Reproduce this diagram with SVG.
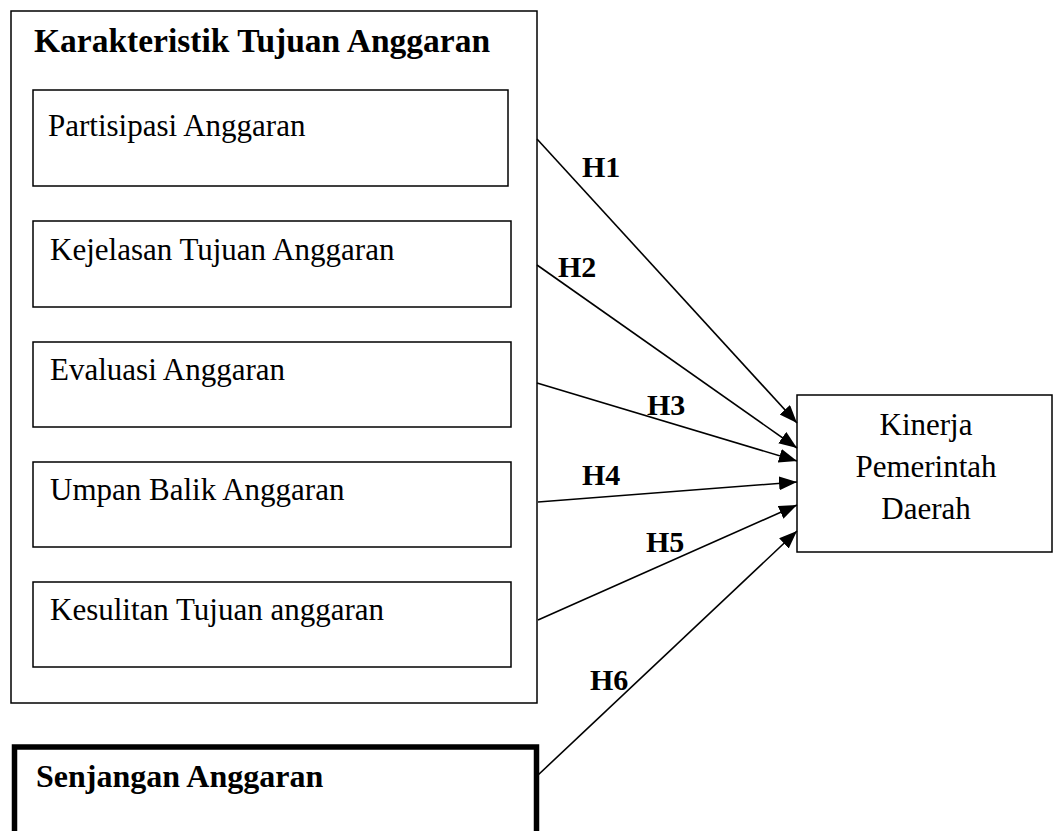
<svg xmlns="http://www.w3.org/2000/svg" width="1056" height="831" viewBox="0 0 1056 831">
<style>
.box{fill:#fff;stroke:#000;stroke-width:1.5}
.thick{fill:#fff;stroke:#000;stroke-width:5.5}
.t{font-family:"Liberation Serif","Times New Roman",serif;font-size:31px;fill:#000}
.b{font-family:"Liberation Serif","Times New Roman",serif;font-size:32px;font-weight:bold;fill:#000}
.h{font-family:"Liberation Serif","Times New Roman",serif;font-size:30px;font-weight:bold;fill:#000}
.c{stroke:#000;stroke-width:1.6;fill:none;marker-end:url(#arr)}
</style>
<defs>
<marker id="arr" markerUnits="userSpaceOnUse" markerWidth="20" markerHeight="16" refX="18" refY="7" orient="auto">
<path d="M0,0 L18,7 L0,14 Z" fill="#000"/>
</marker>
</defs>
<rect width="1056" height="831" fill="#fff"/>
<g id="karakteristik">
<rect class="box" x="11" y="11" width="526" height="692"/>
<text class="b" x="34" y="52" style="font-size:33.5px">Karakteristik Tujuan Anggaran</text>
</g>
<g id="partisipasi">
<rect class="box" x="33" y="90" width="475" height="96"/>
<text class="t" x="48" y="136">Partisipasi Anggaran</text>
</g>
<g id="kejelasan">
<rect class="box" x="33" y="221" width="478" height="86"/>
<text class="t" x="50" y="260">Kejelasan Tujuan Anggaran</text>
</g>
<g id="evaluasi">
<rect class="box" x="33" y="342" width="478" height="85"/>
<text class="t" x="50" y="380">Evaluasi Anggaran</text>
</g>
<g id="umpanbalik">
<rect class="box" x="33" y="462" width="478" height="85"/>
<text class="t" x="50" y="500">Umpan Balik Anggaran</text>
</g>
<g id="kesulitan">
<rect class="box" x="33" y="582" width="478" height="85"/>
<text class="t" x="50" y="620">Kesulitan Tujuan anggaran</text>
</g>
<g id="senjangan">
<rect class="thick" x="14.5" y="747" width="522" height="100"/>
<text class="b" x="36" y="787">Senjangan Anggaran</text>
</g>
<g id="kinerja">
<rect class="box" x="797" y="395" width="255" height="157"/>
<text class="t" x="926" y="435" text-anchor="middle">Kinerja</text>
<text class="t" x="926" y="477" text-anchor="middle">Pemerintah</text>
<text class="t" x="926" y="519" text-anchor="middle">Daerah</text>
</g>
<g id="connectors">
<line class="c" x1="537" y1="139" x2="797" y2="423"/>
<line class="c" x1="537" y1="265" x2="797" y2="448"/>
<line class="c" x1="537" y1="383" x2="797" y2="461"/>
<line class="c" x1="538" y1="502" x2="797" y2="482"/>
<line class="c" x1="538" y1="620" x2="797" y2="505"/>
<line class="c" x1="537" y1="776" x2="797" y2="531"/>
</g>
<g id="labels">
<text class="h" x="582" y="177">H1</text>
<text class="h" x="558" y="277">H2</text>
<text class="h" x="647" y="415">H3</text>
<text class="h" x="582" y="485">H4</text>
<text class="h" x="646" y="552">H5</text>
<text class="h" x="590" y="690">H6</text>
</g>
</svg>
